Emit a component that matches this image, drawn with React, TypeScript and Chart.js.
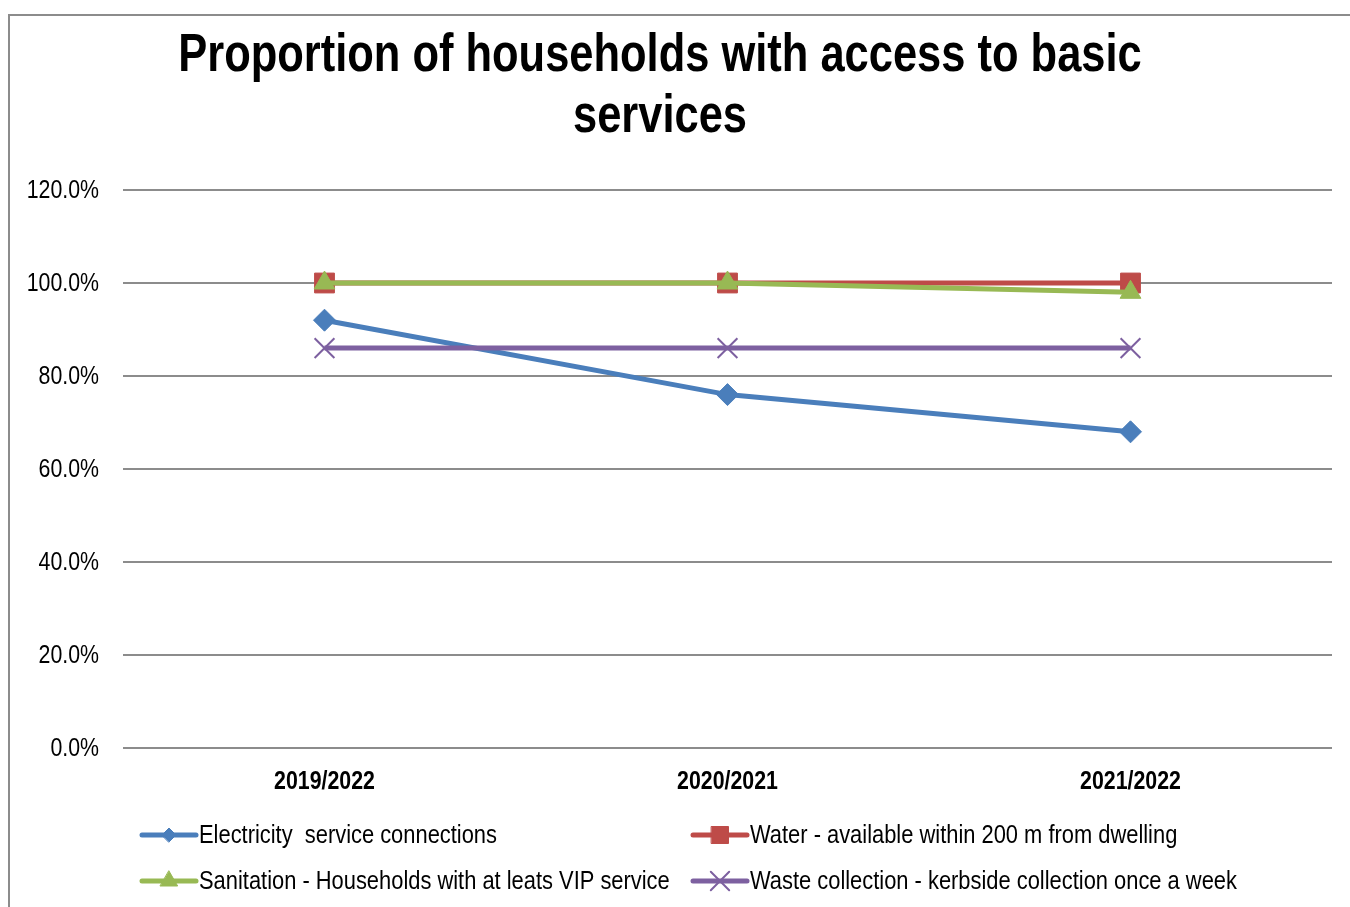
import React, { useEffect, useRef } from 'react';
import { Chart, registerables } from 'chart.js';
import { drawPoint } from 'chart.js/helpers';

Chart.register(...registerables);

const TITLE_LINES = ['Proportion of households with access to basic', 'services'];
const CATEGORIES = ['2019/2022', '2020/2021', '2021/2022'];
const ELECTRICITY = [92, 76, 68];
const WATER = [100, 100, 100];
const SANITATION = [100, 100, 98];
const WASTE = [86, 86, 86];
const SERIES_NAMES = [
  'Electricity  service connections',
  'Water - available within 200 m from dwelling',
  'Sanitation - Households with at leats VIP service',
  'Waste collection - kerbside collection once a week',
];
const Y_MIN = 0;
const Y_MAX = 120;
const Y_STEP = 20;

const FONT = '"Liberation Sans", Arial, sans-serif';
const NARROW = 0.82;

const LEGEND_POS = [
  { x: 142, y: 835 },
  { x: 693, y: 835 },
  { x: 142, y: 881 },
  { x: 693, y: 881 },
];

function narrowText(ctx: CanvasRenderingContext2D, text: string, x: number, y: number, font: string, align: CanvasTextAlign, baseline: CanvasTextBaseline) {
  ctx.save();
  ctx.font = font;
  ctx.textAlign = align;
  ctx.textBaseline = baseline;
  ctx.fillStyle = '#000';
  ctx.translate(x, y);
  ctx.scale(NARROW, 1);
  ctx.fillText(text, 0, 0);
  ctx.restore();
}

const decorPlugin = {
  id: 'decor',
  afterDraw(chart: any) {
    const ctx = chart.ctx as CanvasRenderingContext2D;
    ctx.save();
    // title
    TITLE_LINES.forEach((t, i) => narrowText(ctx, t, 660, 71 + i * 61, `bold 53px ${FONT}`, 'center', 'alphabetic'));

    // y tick labels
    const ys = chart.scales.y;
    ys.ticks.forEach((t: any) => {
      const py = ys.getPixelForValue(t.value);
      narrowText(ctx, Number(t.value).toFixed(1) + '%', 99, py + 1, `26px ${FONT}`, 'right', 'middle');
    });
    // x tick labels
    const xs = chart.scales.x;
    CATEGORIES.forEach((c, i) => {
      const px = xs.getPixelForTick(i);
      narrowText(ctx, c, px, 782, `bold 26px ${FONT}`, 'center', 'middle');
    });

    // legend
    chart.data.datasets.forEach((ds: any, i: number) => {
      const p = LEGEND_POS[i];
      ctx.strokeStyle = ds.borderColor;
      ctx.lineWidth = 5;
      ctx.lineCap = 'round';
      ctx.beginPath();
      ctx.moveTo(p.x, p.y);
      ctx.lineTo(p.x + 54, p.y);
      ctx.stroke();
      ctx.fillStyle = ds.pointBackgroundColor;
      ctx.strokeStyle = ds.pointBorderColor;
      ctx.lineWidth = ds.pointBorderWidth;
      drawPoint(ctx, {
        pointStyle: ds.pointStyle,
        rotation: 0,
        radius: ds.legendRadius,
        borderWidth: ds.pointBorderWidth,
      } as any, p.x + 27, p.y);
      narrowText(ctx, ds.label, p.x + 57, p.y + 1, `26.7px ${FONT}`, 'left', 'middle');
    });
    ctx.restore();
  },
};

export default function App() {
  const ref = useRef<HTMLCanvasElement>(null);
  useEffect(() => {
    if (!ref.current) return;
    const mk = (label: string, data: number[], color: string, style: string, r: number, lr: number, order: number, bw = 1) => ({
      label,
      data,
      borderColor: color,
      backgroundColor: color,
      pointBackgroundColor: color,
      pointBorderColor: color,
      pointStyle: style,
      pointRadius: r,
      pointBorderWidth: bw,
      borderWidth: 5,
      tension: 0,
      order,
      legendRadius: lr,
    });
    const chart = new Chart(ref.current, {
      type: 'line',
      data: {
        labels: CATEGORIES,
        datasets: [
          mk(SERIES_NAMES[0], ELECTRICITY, '#4A7EBB', 'rectRot', 11, 7, 4),
          mk(SERIES_NAMES[1], WATER, '#BE4B48', 'rect', 14, 12, 3),
          mk(SERIES_NAMES[2], SANITATION, '#98B954', 'triangle', 12, 10, 2),
          mk(SERIES_NAMES[3], WASTE, '#7D60A0', 'crossRot', 14, 13, 1, 2),
        ] as any,
      },
      options: {
        animation: false,
        responsive: false,
        layout: { padding: { left: 0, right: 18, top: 190, bottom: 0 } },
        plugins: { legend: { display: false }, title: { display: false }, tooltip: { enabled: false } },
        scales: {
          x: {
            offset: true,
            grid: { display: false, drawTicks: false },
            border: { display: false },
            ticks: { display: false },
            afterFit: (s: any) => { s.height = 159; },
          },
          y: {
            min: Y_MIN,
            max: Y_MAX,
            ticks: { stepSize: Y_STEP, display: false },
            grid: { color: '#8c8c8c', lineWidth: 2, drawTicks: false },
            border: { display: false },
            afterFit: (s: any) => { s.width = 123; },
          },
        },
      } as any,
      plugins: [decorPlugin],
    });
    return () => chart.destroy();
  }, []);
  return (
    <div style={{ position: 'absolute', left: 0, top: 0, width: 1350, height: 907, overflow: 'hidden', background: '#fff' }}>
      <div style={{ position: 'absolute', left: 8, top: 14, width: 1400, height: 1000, border: '2px solid #8c8c8c', boxSizing: 'border-box' }} />
      <canvas ref={ref} width={1350} height={907} style={{ position: 'absolute', left: 0, top: 0, width: 1350, height: 907 }} />
    </div>
  );
}
